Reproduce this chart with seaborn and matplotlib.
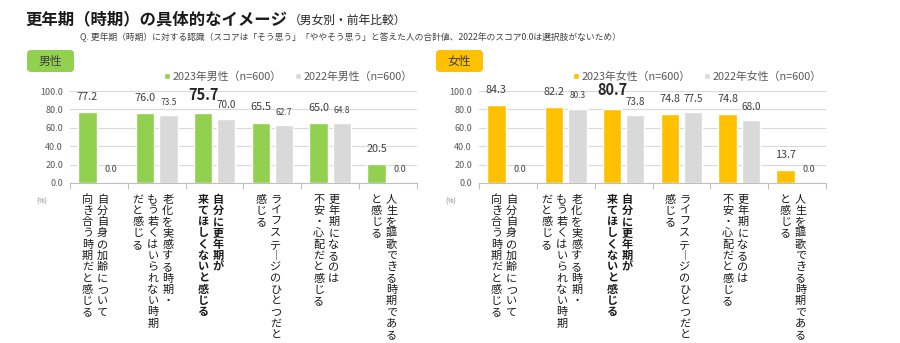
import numpy as np
import pandas as pd
import matplotlib
matplotlib.use("Agg")
import matplotlib.pyplot as plt
import matplotlib.transforms as mtransforms
from matplotlib.patches import FancyBboxPatch
import seaborn as sns

# ---------------- data ----------------
category_lines = [
    ["自分自身の加齢について", "向き合う時期だと感じる"],
    ["老化を実感する時期・", "もう若くはいられない時期", "だと感じる"],
    ["自分に更年期が", "来てほしくないと感じる"],
    ["ライフステージのひとつだと", "感じる"],
    ["更年期になるのは", "不安・心配だと感じる"],
    ["人生を謳歌できる時期である", "と感じる"],
]
categories = ["".join(l) for l in category_lines]

male_2023 = [77.2, 76.0, 75.7, 65.5, 65.0, 20.5]
male_2022 = [0.0, 73.5, 70.0, 62.7, 64.8, 0.0]
female_2023 = [84.3, 82.2, 80.7, 74.8, 74.8, 13.7]
female_2022 = [0.0, 80.3, 73.8, 77.5, 68.0, 0.0]

male_series = ["2023年男性（n=600）", "2022年男性（n=600）"]
female_series = ["2023年女性（n=600）", "2022年女性（n=600）"]
y_ticks = [0, 20, 40, 60, 80, 100]
highlight_index = 2

title_main = "更年期（時期）の具体的なイメージ"
title_sub = "（男女別・前年比較）"
question = "Q. 更年期（時期）に対する認識（スコアは「そう思う」「ややそう思う」と答えた人の合計値、2022年のスコア0.0は選択肢がないため）"

GREEN = "#92D050"
ORANGE = "#FFC000"
GRAY = "#D9D9D9"
TXT = "#404040"
AX_TXT = "#595959"

sns.set_theme(style="white")
plt.rcParams["font.family"] = ["Noto Sans CJK JP", "DejaVu Sans"]

W, H = 900, 343
fig = plt.figure(figsize=(W / 100, H / 100), dpi=100)


def px_x(x):
    return x / W


def px_y(y):
    return 1 - y / H


def draw_panel(left_px, v23, v22, series, color, badge_text, badge_x):
    ax = fig.add_axes([px_x(left_px), px_y(183), 347 / W, 92 / H])
    df = pd.DataFrame({
        "cat": categories * 2,
        "val": list(v23) + list(v22),
        "series": [series[0]] * len(v23) + [series[1]] * len(v22),
    })
    sns.barplot(data=df, x="cat", y="val", hue="series", hue_order=series,
                palette=[color, GRAY], width=0.8, gap=0.2, saturation=1,
                errorbar=None, ax=ax)
    ax.set_xlim(-0.5, len(categories) - 0.5)
    ax.set_ylim(0, 100)
    ax.set_xlabel("")
    ax.set_ylabel("")
    ax.set_xticks(np.arange(-0.5, len(categories), 1.0))
    ax.set_xticklabels([""] * (len(categories) + 1))
    ax.tick_params(axis="x", length=4, color="#BFBFBF", width=0.8, bottom=True, direction="out")
    ax.set_yticks(y_ticks)
    ax.set_yticklabels([f"{t:.1f}" for t in y_ticks], fontsize=6.5, color=AX_TXT)
    ax.tick_params(axis="y", length=0, pad=5)
    for s in ["top", "right", "left"]:
        ax.spines[s].set_visible(False)
    ax.spines["bottom"].set_color("#BFBFBF")
    ax.spines["bottom"].set_linewidth(0.8)
    ax.yaxis.grid(True, color="#D9D9D9", linewidth=0.8)
    ax.set_axisbelow(True)

    # value labels
    c23, c22 = ax.containers[0], ax.containers[1]
    for i, (p23, p22) in enumerate(zip(c23.patches, c22.patches)):
        a, b = v23[i], v22[i]
        cx = p23.get_x() + p23.get_width() / 2
        if i == highlight_index:
            ax.annotate(f"{a:.1f}", xy=(cx, a), xytext=(0, 13.5), textcoords="offset points",
                        ha="center", va="center", fontsize=10.5, fontweight="bold", color="#262626")
        else:
            ax.annotate(f"{a:.1f}", xy=(cx, a), xytext=(0, 11), textcoords="offset points",
                        ha="center", va="center", fontsize=7.8, color=TXT)
        gx = p22.get_x() + p22.get_width() / 2
        small = (b > 0) and (b <= a) and (a - b < 5)
        ax.annotate(f"{b:.1f}", xy=(gx, b), xytext=(0, 9.5), textcoords="offset points",
                    ha="center", va="center", fontsize=6 if small else 7.2 if b > 0 else 6.5,
                    color=TXT)

    # legend
    handles, labels = ax.get_legend_handles_labels()
    ax.legend(handles, labels, loc="center right", bbox_to_anchor=(1.0, 1.155), ncol=2,
              frameon=False, fontsize=7.8, handlelength=0.55, handleheight=0.55,
              handletextpad=0.2, columnspacing=1.3, borderaxespad=0, labelcolor=AX_TXT)

    # vertical category labels
    pitch_col = 15.0
    pitch_ch = 11.3
    base = mtransforms.blended_transform_factory(ax.transData, fig.transFigure)
    for i, lines in enumerate(category_lines):
        n = len(lines)
        weight = "bold" if i == highlight_index else "normal"
        for j, line in enumerate(lines):
            dx = (n - 1) / 2 * pitch_col - j * pitch_col - 4
            for k, ch in enumerate(line):
                glyph = "︱" if ch == "ー" else ch
                tr = mtransforms.offset_copy(base, fig=fig, x=dx, y=-(k * pitch_ch), units="dots")
                ax.text(i, px_y(202.5), glyph, transform=tr, ha="center", va="baseline",
                        fontsize=8, fontweight=weight, color="#1a1a1a", clip_on=False)

    # (%)
    fig.text(px_x(left_px - 28), px_y(202), "(%)", fontsize=5, color="#7f7f7f",
             ha="center", va="center")

    # badge
    badge = FancyBboxPatch((badge_x / 100, (H - 72) / 100), 0.47, 0.22,
                           boxstyle="round,pad=0,rounding_size=0.04",
                           transform=fig.dpi_scale_trans, facecolor=color,
                           edgecolor="none")
    fig.add_artist(badge)
    fig.text(px_x(badge_x + 23.5), px_y(61), badge_text, fontsize=8.5, color=TXT,
             ha="center", va="center")
    return ax


draw_panel(70, male_2023, male_2022, male_series, GREEN, "男性", 27)
draw_panel(479, female_2023, female_2022, female_series, ORANGE, "女性", 436)

# titles
t1 = fig.text(px_x(25), px_y(24), title_main, fontsize=11.8, fontweight="bold",
              color="#1a1a1a", ha="left", va="baseline")
fig.canvas.draw()
bb = t1.get_window_extent()
fig.text(bb.x1 / W + 2 / W, px_y(24), title_sub, fontsize=8.5, color="#262626",
         ha="left", va="baseline")
fig.text(px_x(80), px_y(37), question, fontsize=6.3, color=TXT, ha="left", va="center")

fig.savefig("out.png", dpi=100)
